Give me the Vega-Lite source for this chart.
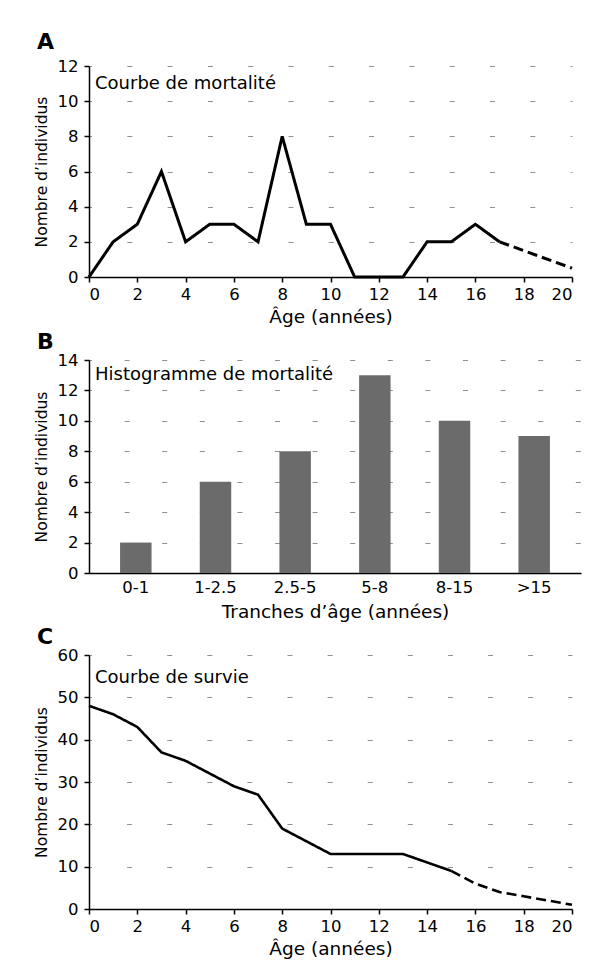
{
  "$schema": "https://vega.github.io/schema/vega-lite/v6.json",
  "background": "white",
  "padding": {"left": 34, "top": 31, "right": 5, "bottom": 5},
  "spacing": 5,
  "config": {
    "font": "DejaVu Sans",
    "view": {"stroke": null},
    "axis": {
      "domainColor": "black", "domainWidth": 1.5, "tickColor": "black", "tickWidth": 1.5, "tickSize": 5,
      "labelColor": "black", "labelFontSize": 16.5, "labelFont": "DejaVu Sans", "labelOverlap": false,
      "titleColor": "black", "titleFontSize": 18.5, "titleFontWeight": "normal", "titleFont": "DejaVu Sans",
      "gridColor": "#8f8f8f", "gridWidth": 1.2
    },
    "axisY": {"labelPadding": 6, "titlePadding": 8, "titleFontSize": 15.5},
    "axisX": {"labelPadding": 4, "titlePadding": 5, "grid": false},
    "title": {"fontSize": 22, "fontWeight": "bold", "anchor": "start", "frame": "group", "dx": -52, "color": "black", "baseline": "alphabetic"}
  },
  "datasets": {
    "mortalite": [
      {"age": 0, "nombre": 0, "trait": "continu"},
      {"age": 1, "nombre": 2, "trait": "continu"},
      {"age": 2, "nombre": 3, "trait": "continu"},
      {"age": 3, "nombre": 6, "trait": "continu"},
      {"age": 4, "nombre": 2, "trait": "continu"},
      {"age": 5, "nombre": 3, "trait": "continu"},
      {"age": 6, "nombre": 3, "trait": "continu"},
      {"age": 7, "nombre": 2, "trait": "continu"},
      {"age": 8, "nombre": 8, "trait": "continu"},
      {"age": 9, "nombre": 3, "trait": "continu"},
      {"age": 10, "nombre": 3, "trait": "continu"},
      {"age": 11, "nombre": 0, "trait": "continu"},
      {"age": 12, "nombre": 0, "trait": "continu"},
      {"age": 13, "nombre": 0, "trait": "continu"},
      {"age": 14, "nombre": 2, "trait": "continu"},
      {"age": 15, "nombre": 2, "trait": "continu"},
      {"age": 16, "nombre": 3, "trait": "continu"},
      {"age": 17, "nombre": 2, "trait": "continu"},
      {"age": 17, "nombre": 2, "trait": "estimé"},
      {"age": 20, "nombre": 0.5, "trait": "estimé"}
    ],
    "histogramme": [
      {"tranche": "0-1", "nombre": 2},
      {"tranche": "1-2.5", "nombre": 6},
      {"tranche": "2.5-5", "nombre": 8},
      {"tranche": "5-8", "nombre": 13},
      {"tranche": "8-15", "nombre": 10},
      {"tranche": ">15", "nombre": 9}
    ],
    "survie": [
      {"age": 0, "nombre": 48, "trait": "continu"},
      {"age": 1, "nombre": 46, "trait": "continu"},
      {"age": 2, "nombre": 43, "trait": "continu"},
      {"age": 3, "nombre": 37, "trait": "continu"},
      {"age": 4, "nombre": 35, "trait": "continu"},
      {"age": 5, "nombre": 32, "trait": "continu"},
      {"age": 6, "nombre": 29, "trait": "continu"},
      {"age": 7, "nombre": 27, "trait": "continu"},
      {"age": 8, "nombre": 19, "trait": "continu"},
      {"age": 9, "nombre": 16, "trait": "continu"},
      {"age": 10, "nombre": 13, "trait": "continu"},
      {"age": 11, "nombre": 13, "trait": "continu"},
      {"age": 12, "nombre": 13, "trait": "continu"},
      {"age": 13, "nombre": 13, "trait": "continu"},
      {"age": 14, "nombre": 11, "trait": "continu"},
      {"age": 15, "nombre": 9, "trait": "continu"},
      {"age": 15, "nombre": 9, "trait": "estimé"},
      {"age": 16, "nombre": 6, "trait": "estimé"},
      {"age": 17, "nombre": 4, "trait": "estimé"},
      {"age": 18, "nombre": 3, "trait": "estimé"},
      {"age": 19, "nombre": 2, "trait": "estimé"},
      {"age": 20, "nombre": 1, "trait": "estimé"}
    ]
  },
  "vconcat": [
    {
      "title": {"text": "A", "offset": 4},
      "width": 483,
      "height": 211,
      "layer": [
        {
          "data": {"name": "mortalite"},
          "mark": {"type": "line", "color": "black", "strokeWidth": 3, "strokeJoin": "miter"},
          "encoding": {
            "x": {"field": "age", "type": "quantitative", "scale": {"domain": [0, 20], "nice": false},
                  "axis": {"values": [0, 2, 4, 6, 8, 10, 12, 14, 16, 18, 20], "title": "Âge (années)"}},
            "y": {"field": "nombre", "type": "quantitative", "scale": {"domain": [0, 12], "nice": false},
                  "axis": {"values": [0, 2, 4, 6, 8, 10, 12], "title": "Nombre d’individus", "grid": true, "gridDash": [5, 35.3], "gridDashOffset": 2.5}},
            "strokeDash": {"field": "trait", "type": "nominal", "scale": {"domain": ["continu", "estimé"], "range": [[1, 0], [10, 5]]}, "legend": null}
          }
        },
        {
          "data": {"values": [{"etiquette": "Courbe de mortalité"}]},
          "mark": {"type": "text", "align": "left", "baseline": "alphabetic", "dx": 6, "fontSize": 18, "color": "black"},
          "encoding": {
            "x": {"datum": 0, "type": "quantitative",
                  "axis": {"values": [0, 2, 4, 6, 8, 10, 12, 14, 16, 18, 20], "title": "Âge (années)"}},
            "y": {"datum": 10.69, "type": "quantitative",
                  "axis": {"values": [0, 2, 4, 6, 8, 10, 12], "title": "Nombre d’individus", "grid": true, "gridDash": [5, 35.3], "gridDashOffset": 2.5}},
            "text": {"field": "etiquette"}
          }
        }
      ]
    },
    {
      "title": {"text": "B", "offset": -2},
      "width": 492,
      "height": 213,
      "layer": [
        {
          "data": {"name": "histogramme"},
          "mark": {"type": "bar", "color": "#6b6b6b"},
          "encoding": {
            "x": {"field": "tranche", "type": "nominal", "sort": null,
                  "scale": {"paddingInner": 0.605, "paddingOuter": 0.39},
                  "axis": {"ticks": false, "labelAngle": 0, "labelPadding": 6, "titlePadding": 7, "title": "Tranches d’âge (années)"}},
            "y": {"field": "nombre", "type": "quantitative", "scale": {"domain": [0, 14], "nice": false},
                  "axis": {"values": [0, 2, 4, 6, 8, 10, 12, 14], "title": "Nombre d’individus", "grid": true, "gridDash": [5, 32.6], "gridDashOffset": 2.5}}
          }
        },
        {
          "data": {"values": [{"etiquette": "Histogramme de mortalité"}]},
          "mark": {"type": "text", "align": "left", "baseline": "alphabetic", "dx": -25, "fontSize": 18, "color": "black"},
          "encoding": {
            "x": {"datum": "0-1", "type": "nominal", "bandPosition": 0,
                  "axis": {"ticks": false, "labelAngle": 0, "labelPadding": 6, "titlePadding": 7, "title": "Tranches d’âge (années)"}},
            "y": {"datum": 12.69, "type": "quantitative",
                  "axis": {"values": [0, 2, 4, 6, 8, 10, 12, 14], "title": "Nombre d’individus", "grid": true, "gridDash": [5, 32.6], "gridDashOffset": 2.5}},
            "text": {"field": "etiquette"}
          }
        }
      ]
    },
    {
      "title": {"text": "C", "offset": -2},
      "width": 483,
      "height": 254,
      "layer": [
        {
          "data": {"name": "survie"},
          "mark": {"type": "line", "color": "black", "strokeWidth": 2.6},
          "encoding": {
            "x": {"field": "age", "type": "quantitative", "scale": {"domain": [0, 20], "nice": false},
                  "axis": {"values": [0, 2, 4, 6, 8, 10, 12, 14, 16, 18, 20], "title": "Âge (années)"}},
            "y": {"field": "nombre", "type": "quantitative", "scale": {"domain": [0, 60], "nice": false},
                  "axis": {"values": [0, 10, 20, 30, 40, 50, 60], "title": "Nombre d’individus", "grid": true, "gridDash": [5, 35.1], "gridDashOffset": 2.5}},
            "strokeDash": {"field": "trait", "type": "nominal", "scale": {"domain": ["continu", "estimé"], "range": [[1, 0], [10, 5]]}, "legend": null}
          }
        },
        {
          "data": {"values": [{"etiquette": "Courbe de survie"}]},
          "mark": {"type": "text", "align": "left", "baseline": "alphabetic", "dx": 6, "fontSize": 18, "color": "black"},
          "encoding": {
            "x": {"datum": 0, "type": "quantitative",
                  "axis": {"values": [0, 2, 4, 6, 8, 10, 12, 14, 16, 18, 20], "title": "Âge (années)"}},
            "y": {"datum": 53.4, "type": "quantitative",
                  "axis": {"values": [0, 10, 20, 30, 40, 50, 60], "title": "Nombre d’individus", "grid": true, "gridDash": [5, 35.1], "gridDashOffset": 2.5}},
            "text": {"field": "etiquette"}
          }
        }
      ]
    }
  ]
}
